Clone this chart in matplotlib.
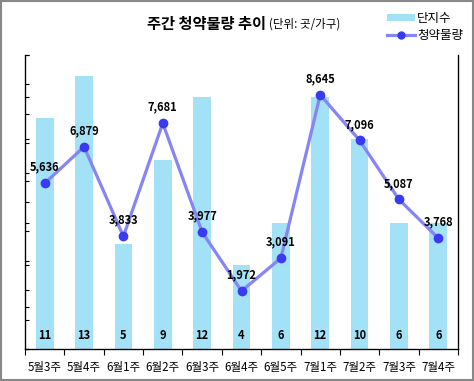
import matplotlib
matplotlib.use("Agg")
import matplotlib.pyplot as plt
from matplotlib.patches import Rectangle
from matplotlib.lines import Line2D
from matplotlib.patches import Patch
import numpy as np

plt.rcParams['font.family'] = ['Noto Sans CJK KR', 'DejaVu Sans']

categories = ["5월3주", "5월4주", "6월1주", "6월2주", "6월3주", "6월4주",
              "6월5주", "7월1주", "7월2주", "7월3주", "7월4주"]
complexes = [11, 13, 5, 9, 12, 4, 6, 12, 10, 6, 6]
supply = [5636, 6879, 3833, 7681, 3977, 1972, 3091, 8645, 7096, 5087, 3768]

bar_color = "#A3E1F7"
line_color = "#8585F5"
marker_color = "#3A3AF2"

fig = plt.figure(figsize=(4.74, 3.81), dpi=100)
ax = fig.add_axes([25/474, 1-349/381, 433/474, 294/381])
x = np.arange(len(categories))

ax.bar(x, complexes, width=0.45, color=bar_color, zorder=1)
ax.set_ylim(0, 14)
ax.set_xlim(-0.5, len(categories)-0.5)
ax.yaxis.tick_right()
ax.set_yticks(np.arange(0, 15, 2))
ax.set_yticklabels([])
ax.tick_params(axis='y', direction='in', length=3, width=0.8)
ax.set_xticks(x)
ax.set_xticklabels(categories, fontsize=8.3)
ax.tick_params(axis='x', length=0, pad=9)
ax.set_xticks(np.arange(-0.5, len(categories), 1), minor=True)
ax.tick_params(axis='x', which='minor', direction='out', length=4, width=0.8)
ax.spines['top'].set_visible(False)
for s in ['left', 'right', 'bottom']:
    ax.spines[s].set_linewidth(0.9)
for xi, v in zip(x, complexes):
    ax.text(xi, 0.65, str(v), ha='center', va='center', fontsize=8, fontweight='bold')

ax2 = ax.twinx()
ax2.plot(x, supply, color=line_color, lw=2.3, marker='o', markersize=6,
         markerfacecolor=marker_color, markeredgecolor=marker_color, zorder=3)
ax2.set_ylim(0, 10000)
ax2.yaxis.tick_left()
ax2.set_yticks(np.arange(0, 10001, 1000))
ax2.set_yticklabels([])
ax2.tick_params(axis='y', direction='in', length=3, width=0.8)
ax2.spines['top'].set_visible(False)
for xi, v in zip(x, supply):
    ax2.annotate(f"{v:,}", (xi, v), xytext=(0, 11.5), textcoords='offset points',
                 ha='center', va='center', fontsize=8, fontweight='bold')

fig.text(266/474, 1-24/381, "주간 청약물량 추이", ha='right', va='center',
         fontsize=11, fontweight='bold')
fig.text(269/474, 1-24/381, "(단위: 곳/가구)", ha='left', va='center', fontsize=8.3)

handles = [Patch(facecolor=bar_color, edgecolor='none'),
           Line2D([0], [0], color=line_color, lw=2.3, marker='o', markersize=5,
                  markerfacecolor=marker_color, markeredgecolor=marker_color)]
fig.legend(handles, ["단지수", "청약물량"], loc='upper left',
           bbox_to_anchor=(376/474, 1-1/381), frameon=False, fontsize=9,
           handlelength=2.2, handletextpad=0.2, labelspacing=0.3,
           handleheight=0.5)

fig.add_artist(Rectangle((0.002, 0.002), 0.995, 0.995, transform=fig.transFigure,
                         fill=False, edgecolor='#888888', lw=1.5))

fig.savefig("out.png", dpi=100)
